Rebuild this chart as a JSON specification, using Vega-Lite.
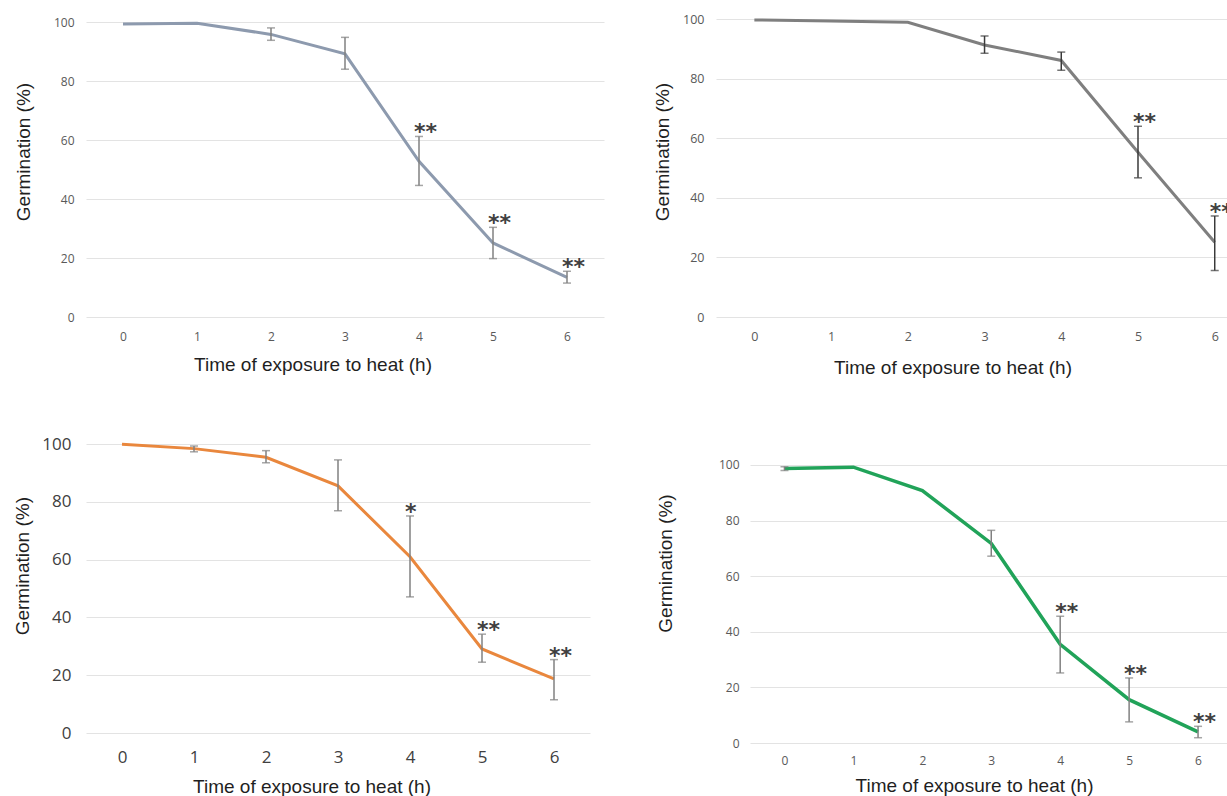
{
  "$schema": "https://vega.github.io/schema/vega-lite/v6.json",
  "autosize": {"type": "pad"},
  "padding": {"left": 13, "top": 13, "right": 0, "bottom": 0},
  "background": "white",
  "data": {"values": [
    {"panel": "A", "t": 0, "mean": 99.3, "lo": null, "hi": null, "sig": ""},
    {"panel": "A", "t": 1, "mean": 99.6, "lo": null, "hi": null, "sig": ""},
    {"panel": "A", "t": 2, "mean": 95.8, "lo": 93.8, "hi": 98.0, "sig": ""},
    {"panel": "A", "t": 3, "mean": 89.2, "lo": 84.0, "hi": 94.8, "sig": ""},
    {"panel": "A", "t": 4, "mean": 52.8, "lo": 44.6, "hi": 61.2, "sig": "**"},
    {"panel": "A", "t": 5, "mean": 25.1, "lo": 19.8, "hi": 30.4, "sig": "**"},
    {"panel": "A", "t": 6, "mean": 13.4, "lo": 11.5, "hi": 15.5, "sig": "**"},
    {"panel": "B", "t": 0, "mean": 99.7, "lo": null, "hi": null, "sig": ""},
    {"panel": "B", "t": 1, "mean": 99.3, "lo": null, "hi": null, "sig": ""},
    {"panel": "B", "t": 2, "mean": 98.9, "lo": null, "hi": null, "sig": ""},
    {"panel": "B", "t": 3, "mean": 91.3, "lo": 88.5, "hi": 94.3, "sig": ""},
    {"panel": "B", "t": 4, "mean": 86.1, "lo": 82.8, "hi": 88.9, "sig": ""},
    {"panel": "B", "t": 5, "mean": 55.3, "lo": 46.7, "hi": 64.0, "sig": "**"},
    {"panel": "B", "t": 6, "mean": 25.1, "lo": 15.6, "hi": 33.9, "sig": "**"},
    {"panel": "C", "t": 0, "mean": 99.9, "lo": null, "hi": null, "sig": ""},
    {"panel": "C", "t": 1, "mean": 98.4, "lo": 97.3, "hi": 99.3, "sig": ""},
    {"panel": "C", "t": 2, "mean": 95.4, "lo": 93.5, "hi": 97.7, "sig": ""},
    {"panel": "C", "t": 3, "mean": 85.5, "lo": 76.9, "hi": 94.5, "sig": ""},
    {"panel": "C", "t": 4, "mean": 61.0, "lo": 47.1, "hi": 75.1, "sig": "*"},
    {"panel": "C", "t": 5, "mean": 29.1, "lo": 24.5, "hi": 34.2, "sig": "**"},
    {"panel": "C", "t": 6, "mean": 18.7, "lo": 11.5, "hi": 25.4, "sig": "**"},
    {"panel": "D", "t": 0, "mean": 98.7, "lo": 98.0, "hi": 99.4, "sig": ""},
    {"panel": "D", "t": 1, "mean": 99.2, "lo": null, "hi": null, "sig": ""},
    {"panel": "D", "t": 2, "mean": 90.8, "lo": null, "hi": null, "sig": ""},
    {"panel": "D", "t": 3, "mean": 71.8, "lo": 67.2, "hi": 76.5, "sig": ""},
    {"panel": "D", "t": 4, "mean": 35.5, "lo": 25.2, "hi": 45.6, "sig": "**"},
    {"panel": "D", "t": 5, "mean": 15.6, "lo": 7.6, "hi": 23.4, "sig": "**"},
    {"panel": "D", "t": 6, "mean": 4.0, "lo": 1.9, "hi": 6.0, "sig": "**"}
  ]},
  "spacing": 58,
  "vconcat": [
    {
      "hconcat": [
        {
          "width": 518, "height": 298,
          "transform": [{"filter": "datum.panel == 'A'"}],
          "encoding": {
            "x": {"field": "t", "type": "quantitative", "title": "Time of exposure to heat (h)",
              "scale": {"domain": [-0.5, 6.5], "nice": false, "zero": false},
              "axis": {"values": [0,1,2,3,4,5,6], "format": "d", "labelPadding": 19, "labelFontSize": 12, "labelColor": "#595959",
                "titleX": 226.5, "titleY": 47}}
          },
          "layer": [
            {"mark": {"type": "line", "color": "#8D9AAE", "strokeWidth": 3},
             "encoding": {"y": {"field": "mean", "type": "quantitative", "title": "Germination (%)",
               "scale": {"domain": [0, 101.02], "nice": false},
               "axis": {"values": [0,20,40,60,80,100], "grid": true, "labelPadding": 12, "labelFontSize": 12, "labelColor": "#595959",
                 "titleX": -62.5, "titleY": 132.5}}}},
            {"transform": [{"filter": "datum.hi != null"}],
             "mark": {"type": "errorbar", "color": "#808080", "thickness": 1.5, "ticks": {"size": 8}},
             "encoding": {"y": {"field": "lo", "type": "quantitative", "title": "Germination (%)"}, "y2": {"field": "hi"}}},
            {"transform": [{"filter": "datum.sig != ''"}],
             "mark": {"type": "text", "font": "DejaVu Sans", "fontSize": 22, "fontWeight": "bold", "color": "#404040", "align": "left", "baseline": "alphabetic", "dx": -5, "dy": 3, "clip": true},
             "encoding": {"y": {"field": "hi", "type": "quantitative", "title": "Germination (%)"}, "text": {"field": "sig"}}}
          ]
        },
        {
          "width": 511, "height": 298,
          "transform": [{"filter": "datum.panel == 'B'"}],
          "encoding": {
            "x": {"field": "t", "type": "quantitative", "title": "Time of exposure to heat (h)",
              "scale": {"domain": [-0.5, 6.16], "nice": false, "zero": false},
              "axis": {"values": [0,1,2,3,4,5,6], "format": "d", "labelPadding": 19, "labelFontSize": 12.5, "labelColor": "#595959",
                "titleX": 236.5, "titleY": 50}}
          },
          "layer": [
            {"mark": {"type": "line", "color": "#7F7F7F", "strokeWidth": 3},
             "encoding": {"y": {"field": "mean", "type": "quantitative", "title": "Germination (%)",
               "scale": {"domain": [0, 100], "nice": false},
               "axis": {"values": [0,20,40,60,80,100], "grid": true, "labelPadding": 12, "labelFontSize": 12.5, "labelColor": "#595959",
                 "titleX": -54, "titleY": 132.5}}}},
            {"transform": [{"filter": "datum.hi != null"}],
             "mark": {"type": "errorbar", "color": "#3A3A3A", "thickness": 1.5, "ticks": {"size": 8}},
             "encoding": {"y": {"field": "lo", "type": "quantitative", "title": "Germination (%)"}, "y2": {"field": "hi"}}},
            {"transform": [{"filter": "datum.sig != ''"}],
             "mark": {"type": "text", "font": "DejaVu Sans", "fontSize": 22, "fontWeight": "bold", "color": "#404040", "align": "left", "baseline": "alphabetic", "dx": -5, "dy": 3, "clip": true},
             "encoding": {"y": {"field": "hi", "type": "quantitative", "title": "Germination (%)"}, "text": {"field": "sig"}}}
          ]
        }
      ],
      "spacing": 112,
      "bounds": "flush"
    },
    {
      "hconcat": [
        {
          "width": 504, "height": 289,
          "transform": [{"filter": "datum.panel == 'C'"}],
          "encoding": {
            "x": {"field": "t", "type": "quantitative", "title": "Time of exposure to heat (h)",
              "scale": {"domain": [-0.5, 6.5], "nice": false, "zero": false},
              "axis": {"values": [0,1,2,3,4,5,6], "format": "d", "labelPadding": 24.7, "labelFontSize": 17, "labelColor": "#404040",
                "titleX": 225.5, "titleY": 53.7}}
          },
          "layer": [
            {"mark": {"type": "line", "color": "#E9873D", "strokeWidth": 3},
             "encoding": {"y": {"field": "mean", "type": "quantitative", "title": "Germination (%)",
               "scale": {"domain": [0, 100], "nice": false},
               "axis": {"values": [0,20,40,60,80,100], "grid": true, "labelPadding": 15, "labelFontSize": 17, "labelColor": "#404040",
                 "titleX": -63.5, "titleY": 121.7}}}},
            {"transform": [{"filter": "datum.hi != null"}],
             "mark": {"type": "errorbar", "color": "#808080", "thickness": 1.5, "ticks": {"size": 8}},
             "encoding": {"y": {"field": "lo", "type": "quantitative", "title": "Germination (%)"}, "y2": {"field": "hi"}}},
            {"transform": [{"filter": "datum.sig != ''"}],
             "mark": {"type": "text", "font": "DejaVu Sans", "fontSize": 22, "fontWeight": "bold", "color": "#404040", "align": "left", "baseline": "alphabetic", "dx": -5, "dy": 3, "clip": true},
             "encoding": {"y": {"field": "hi", "type": "quantitative", "title": "Germination (%)"}, "text": {"field": "sig"}}}
          ]
        },
        {
          "width": 477, "height": 299,
          "transform": [{"filter": "datum.panel == 'D'"}],
          "encoding": {
            "x": {"field": "t", "type": "quantitative", "title": "Time of exposure to heat (h)",
              "scale": {"domain": [-0.5, 6.42], "nice": false, "zero": false},
              "axis": {"values": [0,1,2,3,4,5,6], "format": "d", "labelPadding": 17.7, "labelFontSize": 12, "labelColor": "#595959",
                "titleX": 224, "titleY": 42}}
          },
          "layer": [
            {"mark": {"type": "line", "color": "#21A359", "strokeWidth": 3.5},
             "encoding": {"y": {"field": "mean", "type": "quantitative", "title": "Germination (%)",
               "scale": {"domain": [0, 107.55], "nice": false},
               "axis": {"values": [0,20,40,60,80,100], "grid": true, "labelPadding": 11, "labelFontSize": 12, "labelColor": "#595959",
                 "titleX": -85, "titleY": 119}}}},
            {"transform": [{"filter": "datum.hi != null"}],
             "mark": {"type": "errorbar", "color": "#808080", "thickness": 1.5, "ticks": {"size": 8}},
             "encoding": {"y": {"field": "lo", "type": "quantitative", "title": "Germination (%)"}, "y2": {"field": "hi"}}},
            {"transform": [{"filter": "datum.sig != ''"}],
             "mark": {"type": "text", "font": "DejaVu Sans", "fontSize": 22, "fontWeight": "bold", "color": "#404040", "align": "left", "baseline": "alphabetic", "dx": -5, "dy": 3, "clip": true},
             "encoding": {"y": {"field": "hi", "type": "quantitative", "title": "Germination (%)"}, "text": {"field": "sig"}}}
          ]
        }
      ],
      "spacing": 160,
      "bounds": "flush"
    }
  ],
  "config": {
    "view": {"stroke": null},
    "axis": {
      "domain": false, "ticks": false, "tickSize": 0, "grid": false,
      "gridColor": "#E3E3E3", "gridWidth": 1,
      "labelFont": "Open Sans", "labelBaseline": "middle",
      "titleFont": "Liberation Sans", "titleFontSize": 19, "titleFontWeight": "normal", "titleColor": "#1F1F1F",
      "titleAlign": "center", "titleBaseline": "middle", "titlePadding": 0
    },
    "axisY": {"titleAngle": 270}
  }
}
